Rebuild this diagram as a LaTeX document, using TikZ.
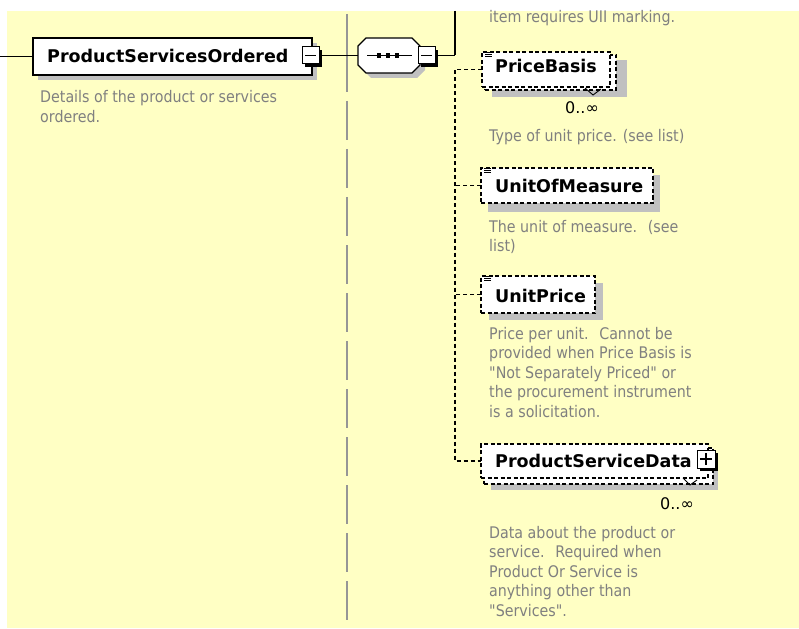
\documentclass[tikz,border=0pt]{standalone}
\usepackage{fontspec}
\setmainfont{DejaVu Sans}
\newfontfamily\descfont[FakeStretch=0.89]{DejaVu Sans}
\usetikzlibrary{calc}

\definecolor{notebg}{RGB}{255,255,196}
\definecolor{desctext}{RGB}{128,128,128}
\definecolor{shadowgrey}{RGB}{192,192,192}
\definecolor{guidegrey}{RGB}{150,150,150}

\tikzset{
  elembox/.style={draw=black, fill=white, line width=1.3pt, inner sep=0pt, outer sep=0pt, anchor=north west},
  optbox/.style={elembox, dash pattern=on 4pt off 2.5pt},
  pmbox/.style={draw=black, fill=white, line width=1pt, inner sep=0pt, outer sep=0pt,
                minimum size=17pt, anchor=north west},
  pmsign/.style={line width=1.1pt},
  elemname/.style={font=\fontsize{17.5}{20}\selectfont\bfseries, anchor=base west, inner sep=0pt},
  % multi-line notes are placed by the baseline of their last line
  desc/.style={font=\descfont\fontsize{16}{19.5}\selectfont, text=desctext, anchor=base west,
               inner sep=0pt, align=left},
  mult/.style={font=\fontsize{16}{18}\selectfont, anchor=base west, inner sep=0pt},
  link/.style={line width=1.3pt},
  optlink/.style={line width=1.3pt, dash pattern=on 4pt off 3pt},
  guide/.style={draw=guidegrey, line width=1.1pt},
  notch/.style={line width=0.9pt},
  simpletype/.pic={\draw[line width=0.9pt] (0,0) -- (7,0) (0,2) -- (7,2) (0,4) -- (7,4);}
}

\begin{document}
\begin{tikzpicture}[x=1pt,y=-1pt]
\useasboundingbox (0,0) rectangle (799,628);
\fill[notebg] (7,11) rectangle (799,628);

% separator between the parent element and its content model
\draw[guide] (347,14) -- (347,92);
\draw[guide, dash pattern=on 39pt off 9pt] (347,101) -- (347,628);

% ---- ProductServicesOrdered ----
\fill[shadowgrey] (38,43) rectangle (317,80);
\node[elembox, minimum width=279pt, minimum height=37pt] (ordered) at (33,38) {};
\node[elemname] (orderedname) at (47,63) {ProductServicesOrdered};
\fill (305,50) rectangle (322,67);
\node[pmbox] (orderedpm) at (302,47) {};
\draw[pmsign] (305,55.5) -- (316,55.5);
\node[desc] (ordereddesc) at (40,122.5) {Details of the product or services\\ordered.};

\coordinate (entry) at (0,56.5);
\draw[link] (entry) -- (ordered.west);

% ---- sequence compositor ----
\fill[shadowgrey] (371,43) -- (417,43) -- (425,51) -- (425,70) -- (417,78)
                  -- (371,78) -- (363,70) -- (363,51) -- cycle;
\node[inner sep=0pt, outer sep=0pt, minimum width=62pt, minimum height=35pt, anchor=north west] (seq) at (358,38) {};
\draw[link, fill=white] (366,38) -- (412,38) -- (420,46) -- (420,65) -- (412,73)
                        -- (366,73) -- (358,65) -- (358,46) -- cycle;
\draw[line width=1.2pt] (367,55.5) -- (412,55.5);
\foreach \sx in {379,388,397} \fill (\sx-2.2,53.3) rectangle (\sx+2.2,57.7);
\fill (421,50) rectangle (438,67);
\node[pmbox] (seqpm) at (418,47) {};
\draw[pmsign] (421,55.5) -- (432,55.5);

\draw[link] (orderedpm.east) -- (seq.west);

\coordinate (bustop) at (455,11);
\coordinate (busjoin) at (455,55.5);
\coordinate (busx) at (455,0);
\draw[link] (seqpm.east) -- (busjoin);
\draw[link] (bustop) -- (busjoin);

% text of the element above
\node[desc] (prevdesc) at (489,23) {item requires UII marking.};

% ---- PriceBasis ----
\fill[shadowgrey] (492,60) rectangle (627,97);
\node[optbox, minimum width=131pt, minimum height=35pt] (pbback) at (485,55) {};
\node[optbox, minimum width=128pt, minimum height=35pt] (pb) at (482,52) {};
\draw[notch] (585,88) -- (593,95) -- (601,89);
\node[elemname] (pbname) at (495,73) {PriceBasis};
\pic at (485,52.5) {simpletype};
\node[mult] (pbmult) at (565,114) {0..∞};
\node[desc] (pbdesc) at (489,142) {Type of unit price. (see list)};

% ---- UnitOfMeasure ----
\fill[shadowgrey] (488,175) rectangle (660,212);
\node[optbox, minimum width=172pt, minimum height=35pt] (uom) at (481,168) {};
\node[elemname] (uomname) at (495,193) {UnitOfMeasure};
\pic at (484,168.5) {simpletype};
\node[desc] (uomdesc) at (489,251.5) {The unit of measure.~ (see\\list)};

% ---- UnitPrice ----
\fill[shadowgrey] (489,283) rectangle (603,320);
\node[optbox, minimum width=114pt, minimum height=37pt] (up) at (481,276) {};
\node[elemname] (upname) at (495,302) {UnitPrice};
\pic at (484,276.5) {simpletype};
\node[desc] (updesc) at (489,417) {Price per unit.~ Cannot be\\provided when Price Basis is\\"Not Separately Priced" or\\the procurement instrument\\is a solicitation.};

% ---- ProductServiceData ----
\fill[shadowgrey] (491,455) rectangle (718,490);
\node[optbox, minimum width=229pt, minimum height=36pt] (psdback) at (484,448) {};
\node[optbox, minimum width=227pt, minimum height=34pt] (psd) at (481,444) {};
\draw[notch] (683,478) -- (690,485) -- (697,480);
\node[elemname] (psdname) at (495,467) {ProductServiceData};
\fill (700,453) rectangle (718,471);
\node[pmbox, minimum size=18pt] (psdpm) at (697,450) {};
\draw[pmsign] (700,459) -- (712,459) (706,453) -- (706,465);
\node[mult] (psdmult) at (660,509) {0..∞};
\node[desc] (psddesc) at (489,616) {Data about the product or\\service.~ Required when\\Product Or Service is\\anything other than\\"Services".};

% ---- optional children hanging off the sequence ----
\draw[optlink] (pb.west) -| (busx |- psd.west) -- (psd.west);
\draw[optlink] (uom.west) -- (busx |- uom.west);
\draw[optlink] (up.west) -- (busx |- up.west);
\end{tikzpicture}
\end{document}
